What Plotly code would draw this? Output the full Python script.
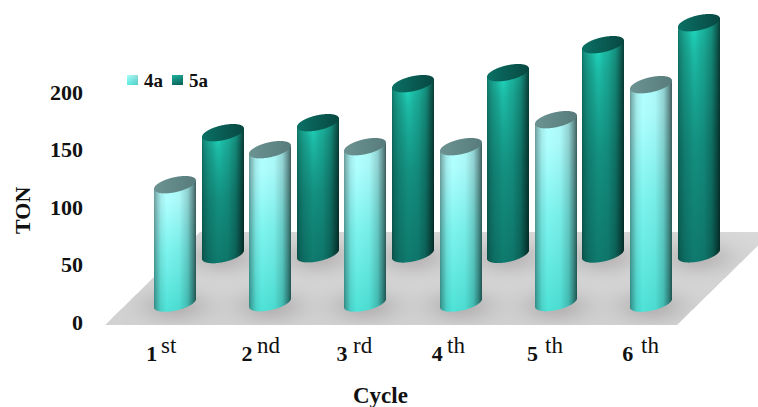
import numpy as np
import plotly.graph_objects as go

# ---- data ----
cycles = ["1", "2", "3", "4", "5", "6"]
suffixes = ["st", "nd", "rd", "th", "th", "th"]
series_names = ["4a", "5a"]
ton_4a = [103, 133, 136, 136, 159, 190]
ton_5a = [106, 114, 148, 158, 182, 201]
y_ticks = [0, 50, 100, 150, 200]

W, H = 758, 407
ML, MB_PX = 90, 335            # plot area: x from 90 px, bottom at 335 px
PX_X, PX_Y = 95.2, 1.15        # pixels per x unit / per TON
X_ORIGIN = 79.8                # pixel of x = 0
Y_ORIGIN = 322                 # pixel of TON = 0
x_range = [(ML - X_ORIGIN) / PX_X, (W - X_ORIGIN) / PX_X]
y_range = [(Y_ORIGIN - MB_PX) / PX_Y, Y_ORIGIN / PX_Y]
BASE_FRONT, BASE_BACK = 16.5, 59.0
BACK_SHIFT = 0.5
A, B, TILT = 21.0, 7.6, 0.2
FONT = "Liberation Serif"


def px_x(v):
    return (v - ML) / (W - ML)


def px_y(v):
    return (MB_PX - v) / MB_PX


def ramp(t, pos, cols):
    return np.stack([np.interp(t, pos, [c[k] for c in cols]) for k in range(3)], axis=-1)


STYLE = {
    "4a": dict(
        vpos=[0, 0.12, 0.5, 1],
        vcol=[(178, 255, 255), (175, 255, 255), (125, 244, 238), (78, 226, 215)],
        upos=[0, 0.05, 0.16, 0.3, 0.6, 0.8, 0.93, 1],
        umul=[0.6, 0.72, 0.92, 1, 0.97, 0.82, 0.55, 0.36],
        top=[(108, 146, 146), (88, 124, 124)],
        glow=0.0,
    ),
    "5a": dict(
        vpos=[0, 0.12, 0.5, 1],
        vcol=[(28, 190, 168), (26, 172, 152), (19, 142, 127), (15, 122, 110)],
        upos=[0, 0.05, 0.16, 0.38, 0.62, 0.8, 0.93, 1],
        umul=[0.62, 0.75, 0.88, 1, 0.95, 0.78, 0.5, 0.33],
        top=[(10, 112, 100), (8, 72, 66)],
        glow=0.14,
    ),
}


def cylinder(center_x, value, base, key):
    st = STYLE[key]
    h_px = value * PX_Y
    ss = 3
    pad = 2
    ext = np.hypot(B, TILT * A) + 2
    w = int(2 * (A + pad))
    h = int(h_px + 2 * ext + 2)
    X = (np.arange(w * ss) + 0.5) / ss - w / 2
    Y = (np.arange(h * ss) + 0.5) / ss - ext
    XX, YY = np.meshgrid(X, Y)
    sq = np.sqrt(np.clip(1 - (XX / A) ** 2, 0, 1))
    inside = np.abs(XX) <= A
    Yt = -TILT * XX
    body = inside & (YY >= Yt) & (YY <= h_px + Yt + B * sq)
    face = inside & (np.abs(YY - Yt) <= B * sq)
    u = np.clip((XX + A) / (2 * A), 0, 1)
    v = np.clip((YY - Yt) / (h_px + B), 0, 1)
    rgb = ramp(v, st["vpos"], st["vcol"]) * np.interp(u, st["upos"], st["umul"])[..., None]
    if st["glow"]:
        shine = np.exp(-(((u - 0.36 - 0.25 * v) / 0.14) ** 2)) * np.exp(-v / 0.3)
        rgb = rgb * (1 + st["glow"] * shine[..., None])
    c0, c1 = np.array(st["top"][0], float), np.array(st["top"][1], float)
    face_rgb = c0 + (c1 - c0) * u[..., None]
    rgb = np.where(face[..., None], face_rgb, rgb)
    alpha = (body | face).astype(float)
    pm = np.clip(rgb, 0, 255) * alpha[..., None]
    pm = pm.reshape(h, ss, w, ss, 3).mean(axis=(1, 3))
    al = alpha.reshape(h, ss, w, ss).mean(axis=(1, 3))
    col = np.where(al[..., None] > 0, pm / np.maximum(al[..., None], 1e-6), 0)
    z = np.dstack([col, al * 255]).round().astype(int)
    return go.Image(
        z=z.tolist(), colormodel="rgba256",
        x0=float(center_x + (0.5 - w / 2) / PX_X), dx=1 / PX_X,
        y0=float(base + value + (ext - 0.5) / PX_Y), dy=-1 / PX_Y,
        xaxis="x2", yaxis="y2", hoverinfo="skip",
    )


def floor_image():
    # parallelogram floor, computed in pixel space with soft shadows at the feet
    x0, x1 = 100, W
    y0, y1 = 228, 328
    ss = 3
    xs = (np.arange((x1 - x0) * ss) + 0.5) / ss + x0
    ys = (np.arange((y1 - y0) * ss) + 0.5) / ss + y0
    XX, YY = np.meshgrid(xs, ys)
    t = (YY - 232) / (325 - 232)
    left = 200 + (105 - 200) * t
    right = 772 + (677 - 772) * t
    mask = (YY >= 232) & (YY <= 325) & (XX >= left) & (XX <= right)
    g = 216 - 6 * t
    shade = np.zeros_like(XX)
    for i in range(len(cycles)):
        for sx, base in ((0.0, BASE_FRONT), (BACK_SHIFT, BASE_BACK)):
            cx = X_ORIGIN + PX_X * (i + 1 + sx)
            cy = Y_ORIGIN - base * PX_Y
            shade += 0.16 * np.exp(-(((XX - cx) / 31) ** 2 + ((YY - cy - 3) / 15) ** 2))
    gray = g * (1 - np.clip(shade, 0, 0.3))
    rgb = np.stack([gray + 2 * shade * 8, gray, gray], axis=-1) * mask[..., None]
    h, w = y1 - y0, x1 - x0
    pm = rgb.reshape(h, ss, w, ss, 3).mean(axis=(1, 3))
    al = mask.astype(float).reshape(h, ss, w, ss).mean(axis=(1, 3))
    col = np.where(al[..., None] > 0, pm / np.maximum(al[..., None], 1e-6), 0)
    z = np.dstack([col, al * 255]).round().astype(int)
    return go.Image(
        z=z.tolist(), colormodel="rgba256",
        x0=(x0 + 0.5 - X_ORIGIN) / PX_X, dx=1 / PX_X,
        y0=(Y_ORIGIN - y0 - 0.5) / PX_Y, dy=-1 / PX_Y,
        xaxis="x2", yaxis="y2", hoverinfo="skip",
    )


def swatch(left, top, c_top, c_bottom):
    w, h = 11, 10
    t = np.linspace(0, 1, h)[:, None, None]
    s = np.linspace(0, 1, w)[None, :, None]
    rgb = (np.array(c_top, float) * (1 - t) + np.array(c_bottom, float) * t) * (1 - 0.12 * s)
    z = np.dstack([rgb, np.full((h, w), 255.0)]).round().astype(int)
    return go.Image(
        z=z.tolist(), colormodel="rgba256",
        x0=(left + 0.5 - X_ORIGIN) / PX_X, dx=1 / PX_X,
        y0=(Y_ORIGIN - top - 0.5) / PX_Y, dy=-1 / PX_Y,
        xaxis="x2", yaxis="y2", hoverinfo="skip",
    )


fig = go.Figure()
xpos = [float(i + 1) for i in range(len(cycles))]

# true bars: they carry the values and sit under the shaded cylinders
fig.add_trace(go.Bar(name=series_names[0], x=xpos, y=ton_4a, base=BASE_FRONT, width=0.12,
                     showlegend=False, marker=dict(color="#6ff0e6", line=dict(width=0))))
fig.add_trace(go.Bar(name=series_names[1], x=[p + BACK_SHIFT for p in xpos], y=ton_5a,
                     base=BASE_BACK, width=0.12, showlegend=False,
                     marker=dict(color="#129c8a", line=dict(width=0))))

fig.add_trace(floor_image())
for i in range(len(cycles)):
    fig.add_trace(cylinder(xpos[i] + BACK_SHIFT, ton_5a[i], BASE_BACK, "5a"))
    fig.add_trace(cylinder(xpos[i], ton_4a[i], BASE_FRONT, "4a"))
fig.add_trace(swatch(127, 75, (165, 252, 248), (95, 236, 226)))
fig.add_trace(swatch(172, 75, (28, 175, 155), (12, 112, 102)))

tick_font = dict(family=FONT, size=22, color="#111111", weight="bold")
fig.update_layout(
    width=W, height=H, autosize=False,
    margin=dict(l=ML, r=0, t=0, b=H - MB_PX, pad=0),
    paper_bgcolor="white", plot_bgcolor="white",
    barmode="overlay",
    showlegend=False,
    xaxis=dict(type="linear", range=x_range, autorange=False, anchor="y", showgrid=False,
               zeroline=False, showline=False, ticks="",
               tickmode="array", tickvals=[p - 0.245 for p in xpos], ticktext=cycles,
               tickfont=tick_font, tickangle=0, fixedrange=True, ticklabelstandoff=3),
    yaxis=dict(type="linear", range=y_range, autorange=False, anchor="x", showgrid=False,
               zeroline=False, showline=False, ticks="",
               tickmode="array", tickvals=y_ticks, tickfont=tick_font,
               ticklabelstandoff=6, fixedrange=True),
    xaxis2=dict(type="linear", range=x_range, autorange=False, anchor="y2", overlaying="x",
                visible=False, fixedrange=True),
    yaxis2=dict(type="linear", range=y_range, autorange=False, anchor="x2", overlaying="y",
                visible=False, fixedrange=True),
)

annos = []
suffix_px = [159, 255, 351, 445, 543, 639]
for s, p in zip(suffixes, suffix_px):
    annos.append(dict(text=s, xref="paper", yref="paper", x=px_x(p), y=px_y(345),
                      xanchor="left", yanchor="middle", showarrow=False,
                      font=dict(family=FONT, size=23, color="#111111")))
for name, p in zip(series_names, [142, 187]):
    annos.append(dict(text=name, xref="paper", yref="paper", x=px_x(p), y=px_y(80),
                      xanchor="left", yanchor="middle", showarrow=False,
                      font=dict(family=FONT, size=19, color="#111111", weight="bold")))
annos.append(dict(text="Cycle", xref="paper", yref="paper", x=px_x(380), y=px_y(395),
                  xanchor="center", yanchor="middle", showarrow=False,
                  font=dict(family=FONT, size=23, color="#111111", weight="bold")))
annos.append(dict(text="TON", xref="paper", yref="paper", x=px_x(23), y=px_y(211),
                  xanchor="center", yanchor="middle", showarrow=False, textangle=-90,
                  font=dict(family=FONT, size=22, color="#111111", weight="bold")))
fig.update_layout(annotations=annos)

fig.write_html("out.html", config={"displayModeBar": False},
               post_script="document.body.style.margin='0';")
